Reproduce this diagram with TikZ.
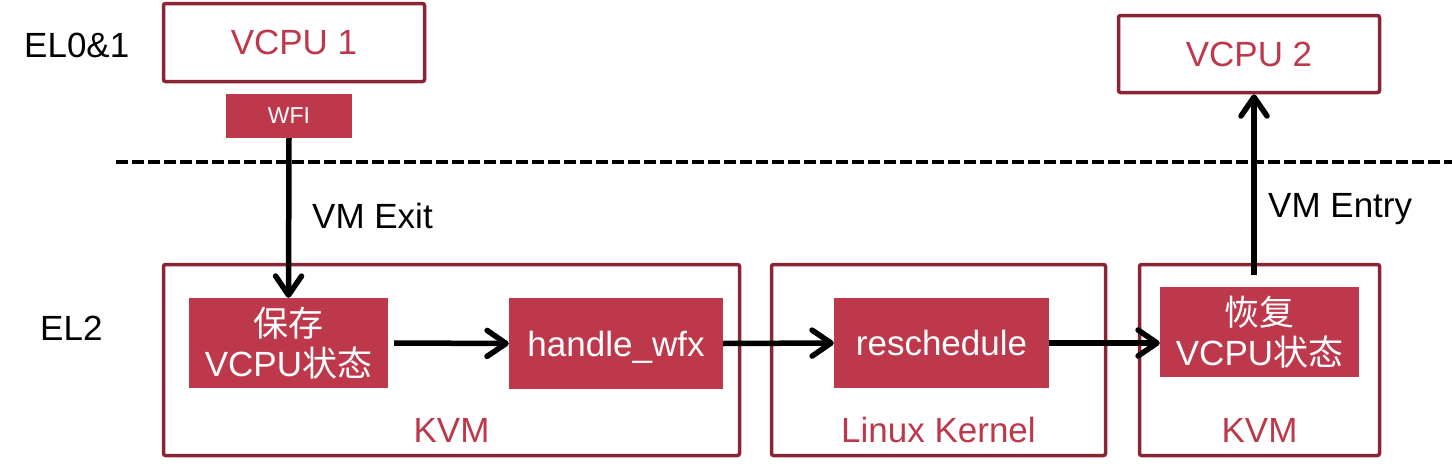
\documentclass[tikz,border=0pt]{standalone}
\usepackage{fontspec}
\setmainfont{Liberation Sans}
\newfontfamily\cjk{Noto Sans CJK SC}
\usetikzlibrary{arrows.meta}
\definecolor{cfill}{RGB}{190,56,75}
\definecolor{cborder}{RGB}{139,37,51}
\tikzset{
  outer/.style={draw=cborder, line width=3.5pt, rounded corners=2pt, inner sep=0pt, text=cfill,
    font=\fontsize{35}{40}\selectfont},
  fillbox/.style={fill=cfill, text=white, inner sep=0pt, align=center,
    font=\fontsize{35}{40}\selectfont},
  lbl/.style={inner sep=0pt, font=\fontsize{35}{40}\selectfont},
  redlbl/.style={inner sep=0pt, text=cfill, font=\fontsize{35}{40}\selectfont},
  arr/.style={line width=5.5pt, -{Straight Barb[length=19pt,width=26pt,round]}},
}
\begin{document}
\begin{tikzpicture}[x=1pt,y=-1pt]
\useasboundingbox (0,0) rectangle (1452,474);
% dashed separator
\coordinate (dl) at (116,162);
\coordinate (dr) at (1452,162);
\draw[line width=4.5pt, dash pattern=on 12pt off 4pt] (dl) -- (dr);
% level labels
\node[lbl, anchor=base west] (el01) at (24,57) {EL0\&1};
\node[lbl, anchor=base west] (el2) at (40,340) {EL2};
% top boxes
\node[outer, minimum width=261pt, minimum height=78pt] (vcpu1) at (294,42.5) {VCPU 1};
\node[fillbox, minimum width=126pt, minimum height=44pt, font=\fontsize{23}{28}\selectfont] (wfi) at (289,116) {WFI};
\node[outer, minimum width=261pt, minimum height=77pt] (vcpu2) at (1249,54) {VCPU 2};
% container boxes
\node[outer, minimum width=576pt, minimum height=191pt] (kvm1) at (451.5,360) {};
\node[outer, minimum width=334pt, minimum height=191pt] (linux) at (938.5,360) {};
\node[outer, minimum width=240pt, minimum height=191pt] (kvm3) at (1259.5,360) {};
\node[redlbl, anchor=base] (kvm1l) at (451.5,442) {KVM};
\node[redlbl, anchor=base] (linuxl) at (938.5,442) {Linux Kernel};
\node[redlbl, anchor=base] (kvm3l) at (1259.5,442) {KVM};
% inner boxes
\node[fillbox, minimum width=199pt, minimum height=90pt] (save) at (288.5,343) {{\cjk 保存}\\VCPU{\cjk 状态}};
\node[fillbox, minimum width=214pt, minimum height=91pt, text height=25.5pt, text depth=0pt] (handle) at (616,343.5) {handle\_wfx};
\node[fillbox, minimum width=215pt, minimum height=90pt, text height=25.5pt, text depth=0pt] (resched) at (941.5,343) {reschedule};
\node[fillbox, minimum width=199pt, minimum height=90pt] (restore) at (1259.5,332) {{\cjk 恢复}\\VCPU{\cjk 状态}};
% arrows
\draw[arr] (wfi.south) -- (save.north);
\draw[arr] ([xshift=6pt]save.east) -- (handle.west);
\draw[arr] (handle.east) -- (resched.west);
\draw[arr] (resched.east) -- (restore.west |- resched.east);
\coordinate (entry) at (1254,275);
\draw[arr] (entry) -- (entry |- vcpu2.south);
% arrow labels
\node[lbl, anchor=base west] (exitl) at (312,228) {VM Exit};
\node[lbl, anchor=base west] (entryl) at (1268,217) {VM Entry};
\end{tikzpicture}
\end{document}
